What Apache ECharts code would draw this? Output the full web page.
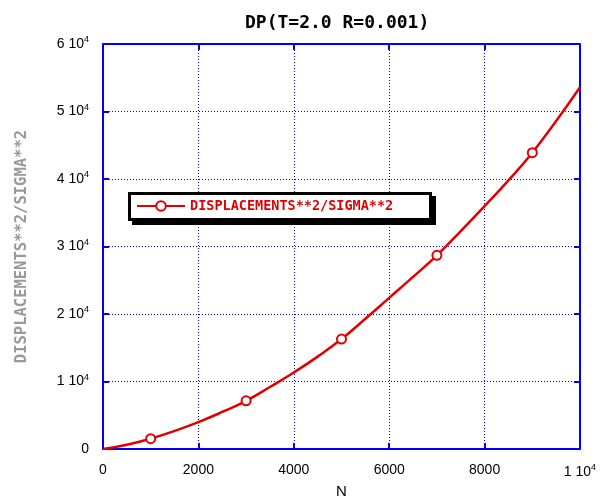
<!DOCTYPE html>
<html>
<head>
<meta charset="utf-8">
<script src="https://cdn.jsdelivr.net/npm/echarts@6/dist/echarts.min.js"></script>
<style>
  html, body { margin: 0; padding: 0; background: #fff; }
  #chart { width: 610px; height: 504px; }
</style>
</head>
<body>
<div id="chart"></div>
<script>
// values
const nValues = [0, 500, 1000, 1500, 2000, 2500, 3000, 3500, 4000, 4500, 5000,
                 5500, 6000, 6500, 7000, 7500, 8000, 8500, 9000, 9500, 10000];
const dispValues = [0, 650, 1550, 2700, 4000, 5500, 7150, 9200, 11350, 13700, 16300,
                    19300, 22400, 25500, 28700, 32300, 36000, 39800, 43900, 48600, 53600];
const markerN = [1000, 3000, 5000, 7000, 9000];

const seriesName = 'DISPLACEMENTS**2/SIGMA**2';
const titleText = 'DP(T=2.0 R=0.001)';

const blue = '#0000ff';
const red = '#e00000';

const chart = echarts.init(document.getElementById('chart'), null, { renderer: 'canvas' });

const sciRich = {
  m: { fontFamily: 'Liberation Sans', fontSize: 14, color: '#000' },
  e: { fontFamily: 'Liberation Sans', fontSize: 9, color: '#000', padding: [0, 0, 9, 0] }
};
const sci = (v) => {
  if (v === 0) return '{m|0}';
  if (v % 10000 === 0) return `{m|${v / 10000} 10}{e|4}`;
  return `{m|${v}}`;
};

const lineData = nValues.map((n, i) => {
  const item = { value: [n, dispValues[i]] };
  if (!markerN.includes(n)) item.symbol = 'none';
  return item;
});

chart.setOption({
  animation: false,
  title: {
    text: titleText,
    left: 240,
    top: 9,
    textStyle: { fontFamily: 'DejaVu Sans Mono', fontWeight: 'bold', fontSize: 18, color: '#000' }
  },
  grid: { left: 103, right: 30, top: 44, bottom: 49 },
  // legend frame with hard drop shadow
  graphic: [{
    type: 'rect', z: 5,
    shape: { x: 132, y: 196, width: 304, height: 29 },
    style: { fill: '#000' }
  }, {
    type: 'rect', z: 6,
    shape: { x: 129.5, y: 193.5, width: 301, height: 26 },
    style: { fill: '#fff', stroke: '#000', lineWidth: 3 }
  }],
  legend: {
    z: 10,
    left: 136,
    top: 199,
    orient: 'horizontal',
    data: [seriesName],
    itemWidth: 48,
    itemHeight: 12,
    padding: 0,
    textStyle: { fontFamily: 'DejaVu Sans Mono', fontWeight: 'bold', fontSize: 13.5, color: red }
  },
  xAxis: [{
    type: 'value',
    min: 0, max: 10000, interval: 2000,
    name: 'N',
    nameLocation: 'middle',
    nameGap: 32,
    nameTextStyle: { fontFamily: 'Liberation Sans', fontSize: 15, color: '#000' },
    axisLine: { show: true, onZero: false, lineStyle: { color: blue, width: 2 } },
    axisTick: { show: true, inside: true, length: 6, lineStyle: { color: blue, width: 2 } },
    axisLabel: { margin: 14, formatter: sci, rich: sciRich },
    splitLine: { show: true, lineStyle: { color: blue, type: [1, 2], width: 1 } }
  }, {
    type: 'value', position: 'top',
    min: 0, max: 10000, interval: 2000,
    axisLine: { show: true, onZero: false, lineStyle: { color: blue, width: 2 } },
    axisTick: { show: true, inside: true, length: 6, lineStyle: { color: blue, width: 2 } },
    axisLabel: { show: false },
    splitLine: { show: false }
  }],
  yAxis: [{
    type: 'value',
    min: 0, max: 60000, interval: 10000,
    name: seriesName,
    nameLocation: 'middle',
    nameGap: 73,
    nameRotate: 90,
    nameTextStyle: { fontFamily: 'DejaVu Sans Mono', fontWeight: 'bold', fontSize: 15.5, color: '#999' },
    axisLine: { show: true, onZero: false, lineStyle: { color: blue, width: 2 } },
    axisTick: { show: true, inside: true, length: 6, lineStyle: { color: blue, width: 2 } },
    axisLabel: { margin: 14, formatter: sci, rich: sciRich },
    splitLine: { show: true, lineStyle: { color: blue, type: [1, 2], width: 1 } }
  }, {
    type: 'value', position: 'right',
    min: 0, max: 60000, interval: 10000,
    axisLine: { show: true, onZero: false, lineStyle: { color: blue, width: 2 } },
    axisTick: { show: true, inside: true, length: 6, lineStyle: { color: blue, width: 2 } },
    axisLabel: { show: false },
    splitLine: { show: false }
  }],
  series: [{
    name: seriesName,
    type: 'line',
    smooth: true,
    data: lineData,
    symbol: 'emptyCircle',
    symbolSize: 9,
    showAllSymbol: true,
    lineStyle: { color: red, width: 2.5 },
    itemStyle: { color: red, borderColor: red, borderWidth: 1.5 }
  }]
});
</script>
</body>
</html>
